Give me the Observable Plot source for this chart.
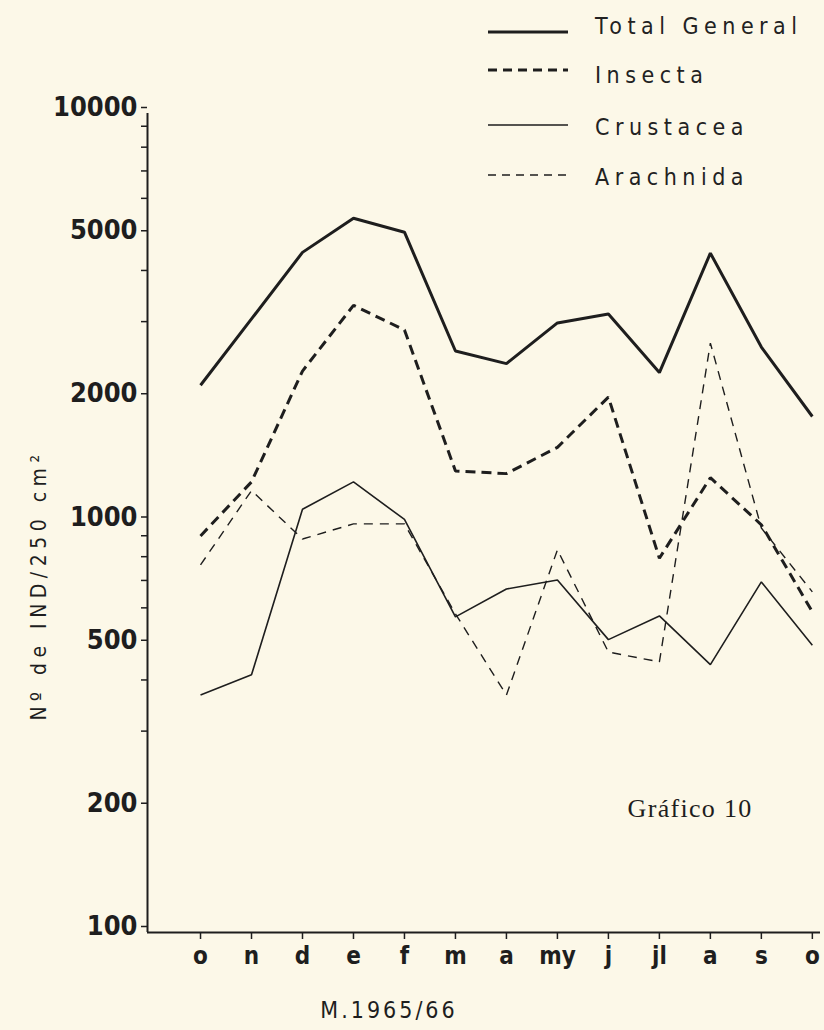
<!DOCTYPE html>
<html><head><meta charset="utf-8">
<script src="https://cdn.jsdelivr.net/npm/d3@7"></script>
<script src="https://cdn.jsdelivr.net/npm/@observablehq/plot@0.6"></script>
<style>
html,body{margin:0;padding:0;background:#fcf8e8;}
#wrap{position:relative;width:824px;height:1030px;overflow:hidden;}
#legend{position:absolute;left:486px;top:0;width:338px;height:200px;}
.lrow{position:absolute;left:0;height:30px;width:338px;}
.lrow svg{position:absolute;left:0;top:0;}
.lrow span{position:absolute;left:109px;bottom:0;font-family:"DejaVu Sans Condensed","DejaVu Sans",sans-serif;font-size:23px;letter-spacing:5.5px;color:#222;line-height:23px;white-space:nowrap;}
</style></head>
<body><div id="wrap"><div id="legend"></div></div>
<script>
// ---- data ----
const months = ["o","n","d","e","f","m","a","my","j","jl","a","s","o"];
const totalGeneral = [2170, 3150, 4580, 5550, 5130, 2630, 2450, 3080, 3240, 2330, 4560, 2690, 1820];
const insecta      = [930, 1260, 2350, 3400, 2960, 1340, 1320, 1530, 2030, 820, 1290, 990, 607];
const crustacea    = [380, 426, 1080, 1260, 1020, 590, 690, 726, 519, 593, 451, 718, 503];
const arachnida    = [790, 1200, 914, 995, 995, 600, 380, 860, 484, 458, 2750, 972, 679];
const yTicks = [100,200,300,400,500,600,700,800,900,1000,2000,3000,4000,5000,6000,7000,8000,9000,10000];
const yLabeled = [100,200,500,1000,2000,5000,10000];
const seriesNames = ["Total General","Insecta","Crustacea","Arachnida"];
const yTitle = "Nº de IND/250 cm²";
const xTitle = "M.1965/66";
const note = "Gráfico 10";

// ---- styles ----
const ink = "#1e1e1e";
const styles = {
  "Total General": {strokeWidth: 3, dash: null},
  "Insecta": {strokeWidth: 3, dash: "10,6"},
  "Crustacea": {strokeWidth: 1.6, dash: null},
  "Arachnida": {strokeWidth: 1.4, dash: "9,7"}
};
const valuesBy = {"Total General": totalGeneral, "Insecta": insecta, "Crustacea": crustacea, "Arachnida": arachnida};
const idx = months.map((_, i) => i);
const rows = seriesNames.flatMap(s => valuesBy[s].map((v, i) => ({series: s, i, v})));
const xDomain = [-1.04, 12.16];
const yDomain = [100, 10000];
const cond = '"DejaVu Sans Condensed","DejaVu Sans",sans-serif';

const plot = Plot.plot({
  width: 824, height: 1030,
  marginTop: 113, marginBottom: 98, marginLeft: 147, marginRight: 4,
  style: {background: "transparent", color: ink, fontFamily: cond},
  x: {type: "linear", domain: xDomain},
  y: {type: "log", domain: yDomain},
  marks: [
    Plot.ruleX([xDomain[0]], {stroke: ink, strokeWidth: 2}),
    Plot.ruleY([yDomain[0]], {stroke: ink, strokeWidth: 2}),
    Plot.axisY({ticks: yTicks, tickSize: 6, tickPadding: 4, label: null, dy: -6,
      tickFormat: d => yLabeled.includes(d) ? String(d) : "",
      fontSize: 27, fontWeight: "bold", fontFamily: cond, strokeWidth: 1.5}),
    Plot.axisX({ticks: idx, tickSize: 7, tickPadding: 7, label: null,
      tickFormat: i => months[i], fontSize: 24, fontWeight: "bold", fontFamily: cond, strokeWidth: 1.5}),
    ...seriesNames.map(s => Plot.line(rows.filter(r => r.series === s), {
      x: "i", y: "v", stroke: ink, strokeWidth: styles[s].strokeWidth,
      strokeDasharray: styles[s].dash, strokeLinejoin: "miter", strokeLinecap: "butt"
    })),
    Plot.text([yTitle], {frameAnchor: "left", textAnchor: "middle", lineAnchor: "middle", rotate: -90,
      dx: -108, dy: 62, fontSize: 21, fontFamily: cond, fill: ink}),
    Plot.text([xTitle], {frameAnchor: "bottom", textAnchor: "middle", lineAnchor: "middle",
      dx: -95, dy: 78, fontSize: 23, fontFamily: cond, fill: ink}),
    Plot.text([note], {frameAnchor: "bottom-right", textAnchor: "end", lineAnchor: "middle",
      dx: -68, dy: -124, fontSize: 26,
      fontFamily: '"Liberation Serif","DejaVu Serif",serif', fill: ink})
  ]
});
const spacing = {[yTitle]: "5.5px", [xTitle]: "3px", [note]: "1.3px"};
d3.select(plot).selectAll("text").each(function() {
  const t = this.textContent;
  if (spacing[t]) this.setAttribute("letter-spacing", spacing[t]);
});
document.getElementById("wrap").prepend(plot);

// ---- legend ----
const legendTops = [8, 57, 109, 159];
const leg = d3.select("#legend");
seriesNames.forEach((s, k) => {
  const row = leg.append("div").attr("class", "lrow").style("top", legendTops[k] + "px");
  const sv = row.append("svg").attr("width", 90).attr("height", 30);
  const ly = [24, 13, 16, 16][k];
  sv.append("line").attr("x1", 2).attr("x2", 82).attr("y1", ly).attr("y2", ly)
    .attr("stroke", ink).attr("stroke-width", styles[s].strokeWidth)
    .attr("stroke-dasharray", styles[s].dash ? (k === 1 ? "9,6" : "8,6") : null);
  row.append("span").text(s);
});
</script>
</body></html>
